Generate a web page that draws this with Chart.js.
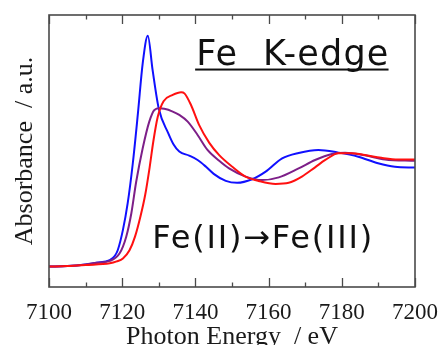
<!DOCTYPE html>
<html>
<head>
<meta charset="utf-8">
<script src="https://cdn.jsdelivr.net/npm/chart.js@4"></script>
<style>
html,body{margin:0;padding:0;background:#fff;}
#wrap{width:442px;height:345px;}
</style>
</head>
<body>
<div id="wrap"><canvas id="c" width="442" height="345"></canvas></div>
<script>
// ---- data ----
const xTicks = [7100, 7120, 7140, 7160, 7180, 7200];
const xTitle = "Photon Energy  / eV";
const yTitle = "Absorbance  / a.u.";
const label1 = "Fe  K-edge";
const label2 = "Fe(II)\u2192Fe(III)";

const blueE = [7100,7105,7110,7113,7116.6,7118.0,7118.8,7120.2,7121.5,7122.9,7124.3,7125.6,7127.0,7128.3,7130.0,7132.6,7134.0,7135.6,7138.3,7140.6,7142.9,7145.0,7148.3,7151.4,7155.5,7159.2,7163.7,7168.2,7173.6,7179.1,7184.5,7189.9,7194.5,7200];
const blueA = [7.5,7.7,8.3,8.9,9.9,11.5,13.6,21.0,30.8,45.5,63.9,82.2,92.4,79.8,65.5,56.5,52.5,49.8,48.3,46.7,44.2,41.6,39.0,38.3,39.6,42.4,47.3,49.3,50.4,49.4,47.9,45.5,44.2,43.9];

const purpleE = [7100,7105,7110,7113,7116.6,7119.3,7121.1,7122.5,7123.8,7125.6,7127.4,7128.8,7130.2,7131.5,7133.8,7135.6,7137.9,7140.6,7143.3,7146.5,7149.2,7153.7,7158.2,7162.8,7168.2,7172.7,7177.3,7180.9,7186.3,7191.8,7200];
const purpleA = [7.5,7.7,8.3,8.9,9.6,12.4,18.5,27.1,38.5,51.0,60.8,65.1,65.7,65.5,64.5,63.3,60.8,55.9,50.4,46.4,43.6,40.6,39.3,40.3,43.6,46.7,48.9,49.4,48.4,46.9,46.4];

const redE = [7100,7105,7110,7116.6,7118.5,7120.2,7122.0,7123.5,7125.0,7126.3,7127.5,7128.5,7129.7,7131.3,7133.8,7136.1,7137.0,7138.8,7141.0,7143.8,7146.5,7150.1,7153.7,7157.3,7161.9,7165.5,7169.1,7172.7,7175.5,7179.1,7182.7,7186.3,7190.8,7195.4,7200];
const redA = [7.5,7.7,8.1,8.7,9.4,10.5,13.5,18.5,26.0,34.0,44.0,53.5,62.5,68.3,70.6,71.6,71.2,66.9,59.6,53.0,48.5,44.2,40.6,39.0,37.9,38.3,40.6,44.0,46.7,49.2,49.2,48.5,47.5,46.9,46.9];

function pts(xs, ys){ return xs.map((x,i)=>({x:x, y:ys[i]})); }

const frameColor = '#4a4a4a';

const decor = {
  id: 'decor',
  afterDraw(chart){
    const ctx = chart.ctx, a = chart.chartArea;
    const xs = chart.scales.x, ys = chart.scales.y;
    ctx.save();
    // frame
    ctx.strokeStyle = frameColor;
    ctx.lineWidth = 1.6;
    ctx.strokeRect(a.left, a.top, a.right - a.left, a.bottom - a.top);
    // inward ticks top & bottom
    ctx.lineWidth = 1.3;
    for (let v = 7100; v <= 7200; v += 10){
      const px = Math.round(xs.getPixelForValue(v)) + 0.5;
      const len = (v % 20 === 0) ? 9 : 4.5;
      ctx.beginPath();
      ctx.moveTo(px, a.bottom); ctx.lineTo(px, a.bottom - len);
      ctx.moveTo(px, a.top); ctx.lineTo(px, a.top + len);
      ctx.stroke();
    }
    // annotations
    ctx.fillStyle = '#111';
    ctx.textBaseline = 'alphabetic';
    ctx.textAlign = 'left';
    ctx.font = '35px "DejaVu Sans"';
    ctx.letterSpacing = '1.2px';
    const x1 = xs.getPixelForValue(7140.2), y1 = ys.getPixelForValue(81.6);
    ctx.fillText(label1, x1, y1);
    const w1 = ctx.measureText(label1).width;
    ctx.fillRect(x1 - 1, y1 + 3.5, w1, 2);
    ctx.font = '32px "DejaVu Sans"';
    ctx.letterSpacing = '1.8px';
    ctx.fillText(label2, xs.getPixelForValue(7128.2), ys.getPixelForValue(14.2));
    ctx.restore();
  }
};

new Chart(document.getElementById('c'), {
  type: 'line',
  data: {
    datasets: [
      { label: 'Fe(III)', data: pts(redE, redA), borderColor: '#ff1010', borderWidth: 2 },
      { label: 'mixed', data: pts(purpleE, purpleA), borderColor: '#7d1f88', borderWidth: 2 },
      { label: 'Fe(II)', data: pts(blueE, blueA), borderColor: '#1010ff', borderWidth: 2 }
    ]
  },
  options: {
    responsive: false,
    animation: false,
    events: [],
    layout: { padding: { left: 0, right: 25, top: 15, bottom: 0 } },
    elements: {
      point: { radius: 0 },
      line: { cubicInterpolationMode: 'monotone', fill: false }
    },
    plugins: { legend: { display: false }, tooltip: { enabled: false } },
    scales: {
      x: {
        type: 'linear',
        min: 7100, max: 7200,
        afterBuildTicks(scale){ scale.ticks = xTicks.map(v => ({value: v})); },
        afterFit(scale){ scale.height = 58; },
        grid: { display: false },
        border: { display: false },
        ticks: {
          maxRotation: 0, autoSkip: false, padding: 4, color: '#1a1a1a',
          font: { family: '"Liberation Serif"', size: 23 },
          callback: v => String(v)
        },
        title: {
          display: true, text: xTitle, color: '#1a1a1a',
          font: { family: '"Liberation Serif"', size: 26, lineHeight: 0.62 },
          padding: { top: 0, bottom: 0 }
        }
      },
      y: {
        type: 'linear',
        min: 0, max: 100,
        afterFit(scale){ scale.width = 49; },
        grid: { display: false },
        border: { display: false },
        ticks: { display: false },
        title: {
          display: true, text: yTitle, color: '#1a1a1a',
          font: { family: '"Liberation Serif"', size: 26, lineHeight: 1.2 },
          padding: { top: 10, bottom: 0 }
        }
      }
    }
  },
  plugins: [decor]
});
</script>
</body>
</html>
